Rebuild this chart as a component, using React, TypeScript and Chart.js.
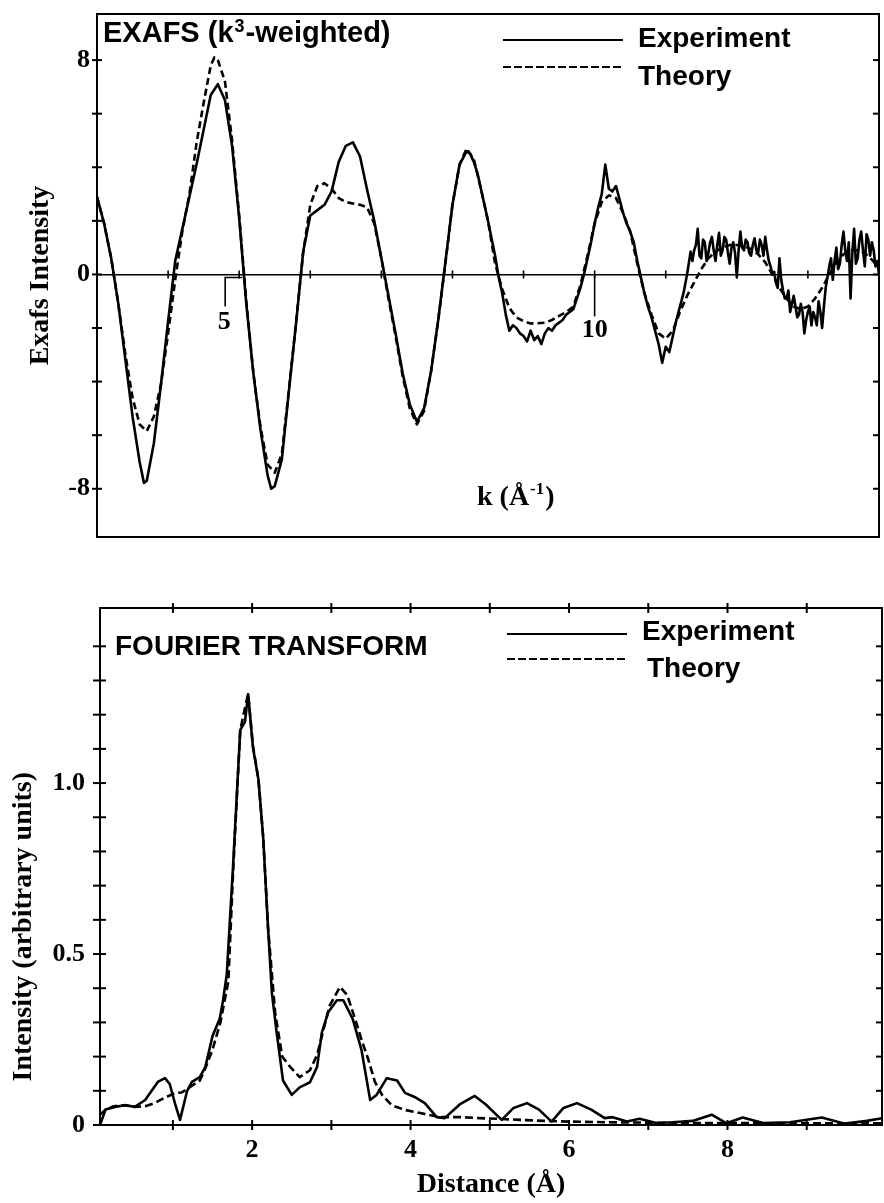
import React, { useEffect, useRef } from 'react';
import { Chart, registerables } from 'chart.js';

Chart.register(...registerables);

// ---------- EXAFS (top panel) ----------
const kExp = [
  3.0, 3.1, 3.2, 3.3, 3.4, 3.5, 3.6, 3.66, 3.7, 3.8,
  3.9, 4.0, 4.1, 4.2, 4.3, 4.4, 4.5, 4.6, 4.7, 4.8,
  4.9, 5.0, 5.1, 5.2, 5.3, 5.4, 5.45, 5.5, 5.6, 5.7,
  5.8, 5.9, 6.0, 6.1, 6.2, 6.3, 6.4, 6.5, 6.6, 6.7,
  6.8, 6.9, 7.0, 7.1, 7.2, 7.3, 7.4, 7.5, 7.6, 7.7,
  7.8, 7.9, 8.0, 8.1, 8.2, 8.25, 8.3, 8.35, 8.4, 8.5,
  8.6,
  8.65, 8.7, 8.75, 8.8, 8.85, 8.9, 8.95, 9.0, 9.05, 9.1,
  9.15, 9.2, 9.25, 9.3, 9.35, 9.4, 9.45, 9.5, 9.55, 9.6,
  9.65, 9.7, 9.75, 9.8, 9.85, 9.9, 9.95, 10.0, 10.05, 10.1,
  10.15, 10.2, 10.25, 10.3, 10.35, 10.4, 10.45, 10.5, 10.55, 10.6,
  10.65, 10.7, 10.75, 10.8, 10.85, 10.9, 10.95, 11.0, 11.05, 11.1,
  11.15, 11.2, 11.25, 11.3,
  11.35, 11.375, 11.4, 11.425, 11.45, 11.475, 11.5, 11.525, 11.55, 11.575,
  11.6, 11.625, 11.65, 11.675, 11.7, 11.725, 11.75, 11.775, 11.8, 11.825,
  11.85, 11.875, 11.9, 11.925, 11.95, 11.975, 12.0, 12.025, 12.05, 12.075,
  12.1, 12.125, 12.15, 12.175, 12.2, 12.225, 12.25, 12.275, 12.3, 12.325,
  12.35, 12.375, 12.4, 12.425, 12.45, 12.475, 12.5, 12.525, 12.55, 12.575,
  12.6, 12.625, 12.65, 12.675, 12.7, 12.725, 12.75, 12.775, 12.8, 12.825,
  12.85, 12.875, 12.9, 12.925, 12.95, 12.975, 13.0, 13.025, 13.05, 13.075,
  13.1, 13.125, 13.15, 13.175, 13.2, 13.225, 13.25, 13.275, 13.3, 13.325,
  13.35, 13.375, 13.4, 13.425, 13.45, 13.475, 13.5, 13.525, 13.55, 13.575,
  13.6, 13.625, 13.65, 13.675, 13.7, 13.725, 13.75, 13.775, 13.8, 13.825,
  13.85, 13.875, 13.9, 13.925, 13.95, 13.975, 14.0,
];
const exafsExp = [
  2.9, 1.9, 0.6, -1.1, -3.2, -5.3, -7.0, -7.78, -7.7, -6.3,
  -4.1, -1.75, 0.5, 1.7, 2.9, 4.1, 5.4, 6.7, 7.1, 6.5,
  4.8, 2.1, -1.1, -3.7, -5.8, -7.5, -8.0, -7.9, -6.9, -4.34,
  -1.83, 0.85, 2.2, 2.4, 2.6, 3.1, 4.2, 4.8, 4.93, 4.4,
  3.15, 2.0, 0.6, -0.8, -2.2, -3.7, -4.85, -5.5, -5.0, -3.6,
  -1.7, 0.45, 2.6, 4.1, 4.6, 4.5, 4.2, 3.8, 3.2, 2.0,
  0.7,
  -0.1, -0.7, -1.5, -2.1, -1.9, -2.0, -2.2, -2.3, -2.5, -2.1,
  -2.45, -2.3, -2.6, -2.2, -2.0, -2.1, -1.9, -1.8, -1.7, -1.5,
  -1.4, -1.3, -0.9, -0.5, 0.0, 0.6, 1.2, 1.9, 2.5, 3.0,
  4.1, 3.2, 3.1, 3.3, 2.8, 2.3, 1.9, 1.6, 1.2, 0.5,
  -0.1, -0.7, -1.2, -1.6, -2.1, -2.6, -3.3, -2.7, -2.9, -2.3,
  -1.7, -1.2, -0.7, 0.0,
  0.85, 0.5, 0.9, 1.1, 1.7, 0.7, 0.6, 1.3, 1.2, 0.5,
  0.8, 1.2, 1.4, 0.9, 0.5, 1.1, 1.55, 0.7, 0.9, 1.4,
  1.3, 0.8, 0.4, 1.0, 1.2, 0.8, -0.1, 0.9, 1.6, 1.0,
  0.9, 1.3, 1.2, 0.8, 0.7, 1.1, 1.35, 0.9, 0.8, 1.3,
  1.1, 0.7, 1.4, 0.9, 0.5, 0.3, 0.0, 0.1, -0.3, -0.5,
  0.6, -0.2, -0.6, -0.9, -0.9, -0.6, -1.4, -1.1, -0.8, -1.2,
  -1.6, -1.5, -1.1, -1.4, -2.2, -1.7, -1.4, -1.2, -1.9, -1.4,
  -1.6, -1.9, -1.0, -1.4, -2.0, -1.2, -0.5, -0.1, 0.3, 0.6,
  -0.2, 0.5, 1.0, 0.2, 0.4, 1.1, 1.6, 0.9, 0.5, 1.2,
  -0.9, 0.8, 1.7, 0.4, 0.6, 1.3, 1.6, 0.9, 0.3, 1.5,
  1.3, 0.7, 1.2, 0.9, 0.3, 0.5, 0.0,
];
const kTheory = [
  3.0, 3.1, 3.2, 3.3, 3.4, 3.5, 3.6, 3.7, 3.8, 3.9,
  4.0, 4.1, 4.2, 4.3, 4.4, 4.5, 4.6, 4.65, 4.7, 4.8, 4.9,
  5.0, 5.1, 5.2, 5.3, 5.4, 5.5, 5.6, 5.7, 5.8, 5.9,
  6.0, 6.1, 6.2, 6.3, 6.4, 6.5, 6.6, 6.7, 6.8, 6.9,
  7.0, 7.1, 7.2, 7.3, 7.4, 7.5, 7.6, 7.7, 7.8, 7.9,
  8.0, 8.1, 8.2, 8.3, 8.4, 8.5, 8.6, 8.7, 8.8, 8.9,
  9.0, 9.1, 9.2, 9.3, 9.4, 9.5, 9.6, 9.7, 9.8, 9.9,
  10.0, 10.1, 10.2, 10.3, 10.4, 10.5, 10.6, 10.7, 10.8, 10.9,
  11.0, 11.1, 11.2, 11.3, 11.4, 11.5, 11.6, 11.7, 11.8, 11.9,
  12.0, 12.1, 12.2, 12.3, 12.4, 12.5, 12.6, 12.7, 12.8, 12.9,
  13.0, 13.1, 13.2, 13.3, 13.4, 13.5, 13.6, 13.7, 13.8, 13.9, 14.0,
];
const exafsTheory = [
  2.9, 1.9, 0.6, -1.1, -3.0, -4.6, -5.6, -5.85, -5.3, -4.1,
  -2.2, -0.2, 1.6, 3.0, 4.9, 6.4, 7.8, 8.1, 8.0, 7.2, 5.0,
  2.2, -1.0, -3.7, -5.7, -7.1, -7.4, -6.7, -4.3, -1.8, 0.8,
  2.6, 3.3, 3.4, 3.2, 2.85, 2.7, 2.65, 2.6, 2.5, 1.9,
  0.6, -0.9, -2.3, -3.8, -5.0, -5.6, -5.1, -3.6, -1.7, 0.4,
  2.6, 4.1, 4.7, 4.3, 3.2, 2.0, 0.4, -0.55, -1.25, -1.6,
  -1.75, -1.83, -1.82, -1.8, -1.7, -1.55, -1.4, -1.2, -0.4, 0.7,
  1.9, 2.7, 2.95, 2.85, 2.3, 1.6, 0.4, -0.7, -1.5, -2.2,
  -2.4, -2.1, -1.4, -0.8, -0.3, 0.2, 0.6, 0.85, 1.0, 1.1,
  1.1, 1.05, 0.95, 0.75, 0.45, 0.0, -0.5, -0.9, -1.2, -1.3,
  -1.2, -0.9, -0.5, 0.0, 0.45, 0.75, 0.9, 0.9, 0.8, 0.55, 0.25,
];
const exafsYTicks = [-8, -6, -4, -2, 0, 2, 4, 6, 8];
const exafsYLabelled = [-8, 0, 8];
const kTicks = [4, 5, 6, 7, 8, 9, 10, 11, 12, 13];

// ---------- Fourier transform (bottom panel) ----------
const distExp = [
  0.08, 0.15, 0.27, 0.4, 0.52, 0.65, 0.81, 0.9, 0.96, 1.03,
  1.09, 1.18, 1.24, 1.34, 1.41, 1.5, 1.59, 1.63, 1.68, 1.72,
  1.76, 1.85, 1.91, 1.95, 2.01, 2.08, 2.14, 2.2, 2.25, 2.31,
  2.39, 2.5, 2.6, 2.73, 2.82, 2.88, 2.96, 3.07, 3.15, 3.27,
  3.38, 3.49, 3.57, 3.7, 3.83, 3.93, 4.05, 4.18, 4.33, 4.43,
  4.62, 4.81, 4.95, 5.15, 5.3, 5.47, 5.62, 5.78, 5.93, 6.1,
  6.28, 6.45, 6.55, 6.73, 6.89, 7.1, 7.31, 7.56, 7.8, 7.99,
  8.19, 8.45, 8.79, 9.19, 9.48, 9.76, 9.95,
];
const ftExp = [
  0.0, 0.045, 0.053, 0.058, 0.053, 0.073, 0.126, 0.137, 0.12, 0.06,
  0.015, 0.10, 0.126, 0.14, 0.17, 0.26, 0.31, 0.36, 0.44, 0.6,
  0.76, 1.155, 1.18, 1.26, 1.105, 1.01, 0.84, 0.58, 0.385, 0.27,
  0.13, 0.088, 0.11, 0.125, 0.17, 0.27, 0.33, 0.365, 0.365, 0.31,
  0.22, 0.073, 0.088, 0.137, 0.13, 0.094, 0.082, 0.064, 0.023, 0.02,
  0.06, 0.085, 0.06, 0.015, 0.05, 0.064, 0.045, 0.01, 0.05, 0.064,
  0.045, 0.02, 0.023, 0.01, 0.018, 0.006, 0.008, 0.012, 0.03, 0.005,
  0.022, 0.006, 0.008, 0.022, 0.004, 0.012, 0.02,
];
const distTheory = [
  0.08, 0.15, 0.25, 0.4, 0.52, 0.65, 0.77, 0.9, 1.03, 1.11,
  1.21, 1.34, 1.4, 1.5, 1.6, 1.7, 1.76, 1.85, 1.91, 1.95,
  2.01, 2.08, 2.14, 2.2, 2.29, 2.38, 2.48, 2.6, 2.73, 2.82,
  2.88, 2.98, 3.11, 3.2, 3.3, 3.38, 3.46, 3.55, 3.64, 3.76,
  3.93, 4.12, 4.37, 4.63, 4.87, 5.12, 5.38, 5.69, 6.0, 6.5,
  7.0, 7.5, 8.0, 8.5, 9.0, 9.5, 9.95,
];
const ftTheory = [
  0.03, 0.045, 0.055, 0.058, 0.053, 0.055, 0.064, 0.08, 0.094, 0.095,
  0.11, 0.13, 0.16, 0.22, 0.30, 0.42, 0.74, 1.155, 1.22, 1.26,
  1.11, 1.01, 0.84, 0.58, 0.33, 0.20, 0.17, 0.14, 0.16, 0.205,
  0.26, 0.35, 0.404, 0.38, 0.31, 0.25, 0.196, 0.126, 0.088, 0.058,
  0.044, 0.035, 0.023, 0.023, 0.02, 0.018, 0.015, 0.012, 0.01, 0.008,
  0.007, 0.006, 0.006, 0.005, 0.005, 0.005, 0.005,
];
const distTicks = [1, 2, 3, 4, 5, 6, 7, 8, 9];
const distLabelled = [2, 4, 6, 8];
const ftYTicks = [0, 0.1, 0.2, 0.3, 0.4, 0.5, 0.6, 0.7, 0.8, 0.9, 1.0, 1.1, 1.2, 1.3, 1.4];
const ftYLabels: [number, string][] = [[0, '0'], [0.5, '0.5'], [1.0, '1.0']];

// ---------- styling ----------
const SERIF = "'Liberation Serif', 'Times New Roman', Times, serif";
const SANS = "'Liberation Sans', Arial, Helvetica, sans-serif";
const tickFont = { family: SERIF, size: 26, weight: 'bold' as const, lineHeight: 1 };
const titleFont = { family: SERIF, size: 28, weight: 'bold' as const };
const SANS_BOLD = `bold 28px ${SANS}`;
const CURVE_W = 2.6;

function seg(ctx: CanvasRenderingContext2D, x1: number, y1: number, x2: number, y2: number) {
  ctx.beginPath();
  ctx.moveTo(x1, y1);
  ctx.lineTo(x2, y2);
  ctx.stroke();
}

function drawLegend(ctx: CanvasRenderingContext2D, x1: number, x2: number, items: { y: number; dash: number[]; text: string; tx: number; ty: number }[]) {
  ctx.save();
  ctx.strokeStyle = '#000';
  ctx.fillStyle = '#000';
  ctx.lineWidth = 2;
  ctx.font = SANS_BOLD;
  ctx.textAlign = 'left';
  ctx.textBaseline = 'alphabetic';
  for (const it of items) {
    ctx.setLineDash(it.dash);
    seg(ctx, x1, it.y, x2, it.y);
    ctx.setLineDash([]);
    ctx.fillText(it.text, it.tx, it.ty);
  }
  ctx.restore();
}

const exafsDecor = {
  id: 'exafsDecor',
  afterDraw(chart: any) {
    const { ctx, chartArea: a, scales } = chart;
    const xs = scales.x;
    const ys = scales.y;
    ctx.save();
    ctx.strokeStyle = '#000';
    ctx.fillStyle = '#000';
    ctx.lineWidth = 2;
    for (const v of exafsYTicks) {
      const py = ys.getPixelForValue(v);
      seg(ctx, a.left - 5, py, a.left + 5, py);
      seg(ctx, a.right - 6, py, a.right, py);
    }
    const y0 = ys.getPixelForValue(0);
    ctx.lineWidth = 1.6;
    for (const k of kTicks) {
      const px = xs.getPixelForValue(k);
      seg(ctx, px, y0 - 4, px, y0 + 4);
    }
    const p10 = xs.getPixelForValue(10);
    seg(ctx, p10, y0, p10, y0 + 42);
    const p5 = xs.getPixelForValue(5);
    ctx.beginPath();
    ctx.moveTo(p5 + 3, y0 + 3);
    ctx.lineTo(p5 - 14, y0 + 3);
    ctx.lineTo(p5 - 14, y0 + 32);
    ctx.stroke();

    // panel title, superscript drawn smaller and raised
    ctx.textAlign = 'left';
    ctx.textBaseline = 'alphabetic';
    const tx = a.left + 6;
    const ty = a.top + 28;
    ctx.font = `bold 29px ${SANS}`;
    const t1 = 'EXAFS (k';
    ctx.fillText(t1, tx, ty);
    let cx = tx + ctx.measureText(t1).width;
    ctx.font = `bold 18px ${SANS}`;
    ctx.fillText('3', cx + 1, ty - 10);
    cx += ctx.measureText('3').width + 2;
    ctx.font = `bold 29px ${SANS}`;
    ctx.fillText('-weighted)', cx, ty);

    // k (Å⁻¹)
    const kx = a.left + 380;
    const ky = a.top + 491;
    ctx.font = `bold 28px ${SERIF}`;
    const part1 = 'k (Å';
    ctx.fillText(part1, kx, ky);
    cx = kx + ctx.measureText(part1).width;
    ctx.font = `bold 17px ${SERIF}`;
    ctx.fillText('-1', cx + 1, ky - 11);
    cx += ctx.measureText('-1').width + 2;
    ctx.font = `bold 28px ${SERIF}`;
    ctx.fillText(')', cx, ky);
    ctx.restore();

    drawLegend(ctx, a.left + 406, a.left + 526, [
      { y: a.top + 26, dash: [], text: 'Experiment', tx: a.left + 541, ty: a.top + 33 },
      { y: a.top + 53, dash: [8, 3], text: 'Theory', tx: a.left + 541, ty: a.top + 71 },
    ]);
  },
};

const ftDecor = {
  id: 'ftDecor',
  afterDraw(chart: any) {
    const { ctx, chartArea: a, scales } = chart;
    const xs = scales.x;
    const ys = scales.y;
    ctx.save();
    ctx.strokeStyle = '#000';
    ctx.fillStyle = '#000';
    ctx.lineWidth = 2;
    for (const v of ftYTicks) {
      const py = ys.getPixelForValue(v);
      seg(ctx, a.left - 7, py, a.left + 6, py);
      seg(ctx, a.right - 6, py, a.right, py);
    }
    for (const d of distTicks) {
      const px = xs.getPixelForValue(d);
      seg(ctx, px, a.top - 5, px, a.top + 5);
      seg(ctx, px, a.bottom - 5, px, a.bottom + 5);
    }
    ctx.font = SANS_BOLD;
    ctx.textAlign = 'left';
    ctx.textBaseline = 'alphabetic';
    ctx.fillText('FOURIER TRANSFORM', a.left + 15, a.top + 47);

    // rotated y title
    ctx.save();
    ctx.translate(24, ys.getPixelForValue(0.58));
    ctx.rotate(-Math.PI / 2);
    ctx.font = `bold 28px ${SERIF}`;
    ctx.textAlign = 'center';
    ctx.textBaseline = 'middle';
    ctx.fillText('Intensity (arbitrary units)', 0, 0);
    ctx.restore();
    ctx.restore();

    drawLegend(ctx, a.left + 407, a.left + 527, [
      { y: a.top + 26, dash: [], text: 'Experiment', tx: a.left + 542, ty: a.top + 32 },
      { y: a.top + 51, dash: [8, 3], text: 'Theory', tx: a.left + 547, ty: a.top + 69 },
    ]);
  },
};

const plainAxis = {
  ticks: { display: false },
  grid: { display: false, drawTicks: false },
  border: { display: true, color: '#000', width: 2 },
};

function makeExafsChart(canvas: HTMLCanvasElement) {
  const yMin = -9.8;
  const yMax = 9.72;
  return new Chart(canvas, {
    type: 'line',
    data: {
      datasets: [
        {
          label: 'Experiment',
          data: kExp.map((k, i) => ({ x: k, y: exafsExp[i] })),
          borderColor: '#000',
          borderWidth: CURVE_W,
          pointRadius: 0,
          tension: 0,
          borderJoinStyle: 'round',
        },
        {
          label: 'Theory',
          data: kTheory.map((k, i) => ({ x: k, y: exafsTheory[i] })),
          borderColor: '#000',
          borderWidth: CURVE_W,
          borderDash: [7, 4],
          pointRadius: 0,
          tension: 0,
          borderJoinStyle: 'round',
        },
      ],
    },
    options: {
      animation: false,
      responsive: false,
      devicePixelRatio: 1,
      events: [],
      layout: { padding: 0 },
      plugins: { legend: { display: false }, tooltip: { enabled: false } },
      scales: {
        x: {
          type: 'linear', position: 'bottom', min: 3, max: 14,
          afterFit: (s: any) => { s.height = 23; },
          ...plainAxis,
        },
        xTop: {
          type: 'linear', axis: 'x', position: 'top', min: 3, max: 14,
          afterFit: (s: any) => { s.height = 14; },
          ...plainAxis,
        },
        xZero: {
          type: 'linear', axis: 'x', position: { y: 0 }, min: 3, max: 14,
          afterBuildTicks: (s: any) => { s.ticks = kTicks.map((v) => ({ value: v })); },
          ticks: {
            callback: (v: any) => (v === 10 ? '10' : ''),
            padding: 43, autoSkip: false, maxRotation: 0, font: tickFont, color: '#000',
          },
          grid: { display: false, drawTicks: false },
          border: { display: true, color: '#000', width: 1.6 },
        },
        xFive: {
          type: 'linear', axis: 'x', position: { y: 0 }, min: 3, max: 14,
          afterBuildTicks: (s: any) => { s.ticks = [{ value: 5 }]; },
          ticks: {
            callback: () => '5',
            padding: 35, labelOffset: -15, autoSkip: false, maxRotation: 0, font: tickFont, color: '#000',
          },
          grid: { display: false, drawTicks: false },
          border: { display: false },
        },
        y: {
          type: 'linear', position: 'left', min: yMin, max: yMax,
          afterFit: (s: any) => { s.width = 97; },
          afterBuildTicks: (s: any) => { s.ticks = exafsYTicks.map((v) => ({ value: v })); },
          ticks: {
            callback: (v: any) => (exafsYLabelled.includes(v) ? String(v) : ''),
            padding: 0, autoSkip: false, font: tickFont, color: '#000',
          },
          grid: { display: false, drawTicks: true, tickLength: 7 },
          border: { display: true, color: '#000', width: 2 },
          title: {
            display: true, text: 'Exafs Intensity', color: '#000', font: titleFont,
            padding: { top: 24, bottom: 0 },
          },
        },
        yRight: {
          type: 'linear', axis: 'y', position: 'right', min: yMin, max: yMax,
          afterFit: (s: any) => { s.width = 5; },
          ...plainAxis,
        },
      },
    } as any,
    plugins: [exafsDecor],
  });
}

function makeFtChart(canvas: HTMLCanvasElement) {
  const xMin = 0.08;
  const xMax = 9.95;
  const yMin = 0;
  const yMax = 1.512;
  return new Chart(canvas, {
    type: 'line',
    data: {
      datasets: [
        {
          label: 'Experiment',
          data: distExp.map((d, i) => ({ x: d, y: ftExp[i] })),
          borderColor: '#000',
          borderWidth: CURVE_W,
          pointRadius: 0,
          tension: 0,
          borderJoinStyle: 'round',
        },
        {
          label: 'Theory',
          data: distTheory.map((d, i) => ({ x: d, y: ftTheory[i] })),
          borderColor: '#000',
          borderWidth: CURVE_W,
          borderDash: [8, 4],
          pointRadius: 0,
          tension: 0,
          borderJoinStyle: 'round',
        },
      ],
    },
    options: {
      animation: false,
      responsive: false,
      devicePixelRatio: 1,
      events: [],
      layout: { padding: 0 },
      plugins: { legend: { display: false }, tooltip: { enabled: false } },
      scales: {
        x: {
          type: 'linear', position: 'bottom', min: xMin, max: xMax,
          afterFit: (s: any) => { s.height = 78; },
          afterBuildTicks: (s: any) => { s.ticks = distTicks.map((v) => ({ value: v })); },
          ticks: {
            callback: (v: any) => (distLabelled.includes(v) ? String(v) : ''),
            padding: 12, autoSkip: false, maxRotation: 0, font: tickFont, color: '#000',
          },
          grid: { display: false, drawTicks: false },
          border: { display: true, color: '#000', width: 2 },
          title: {
            display: true, text: 'Distance (Å)', color: '#000', font: titleFont,
            padding: { top: 0, bottom: 1 },
          },
        },
        xTop: {
          type: 'linear', axis: 'x', position: 'top', min: xMin, max: xMax,
          afterFit: (s: any) => { s.height = 48; },
          ...plainAxis,
        },
        y: {
          type: 'linear', position: 'left', min: yMin, max: yMax,
          afterFit: (s: any) => { s.width = 100; },
          afterBuildTicks: (s: any) => { s.ticks = ftYTicks.map((v) => ({ value: v })); },
          ticks: {
            callback: (v: any) => {
              const hit = ftYLabels.find(([val]) => Math.abs(val - v) < 1e-6);
              return hit ? hit[1] : '';
            },
            padding: 15, autoSkip: false, font: tickFont, color: '#000',
          },
          grid: { display: false, drawTicks: false },
          border: { display: true, color: '#000', width: 2 },
        },
        yRight: {
          type: 'linear', axis: 'y', position: 'right', min: yMin, max: yMax,
          afterFit: (s: any) => { s.width = 2; },
          ...plainAxis,
        },
      },
    } as any,
    plugins: [ftDecor],
  });
}

export default function App() {
  const topRef = useRef<HTMLCanvasElement | null>(null);
  const botRef = useRef<HTMLCanvasElement | null>(null);

  useEffect(() => {
    const c1 = topRef.current ? makeExafsChart(topRef.current) : null;
    const c2 = botRef.current ? makeFtChart(botRef.current) : null;
    return () => {
      if (c1) c1.destroy();
      if (c2) c2.destroy();
    };
  }, []);

  return (
    <div style={{ position: 'absolute', left: 0, top: 0, width: 884, height: 1203, background: '#fff', overflow: 'hidden' }}>
      <canvas ref={topRef} width={884} height={560} style={{ position: 'absolute', left: 0, top: 0, width: 884, height: 560, display: 'block' }} />
      <canvas ref={botRef} width={884} height={643} style={{ position: 'absolute', left: 0, top: 560, width: 884, height: 643, display: 'block' }} />
    </div>
  );
}
